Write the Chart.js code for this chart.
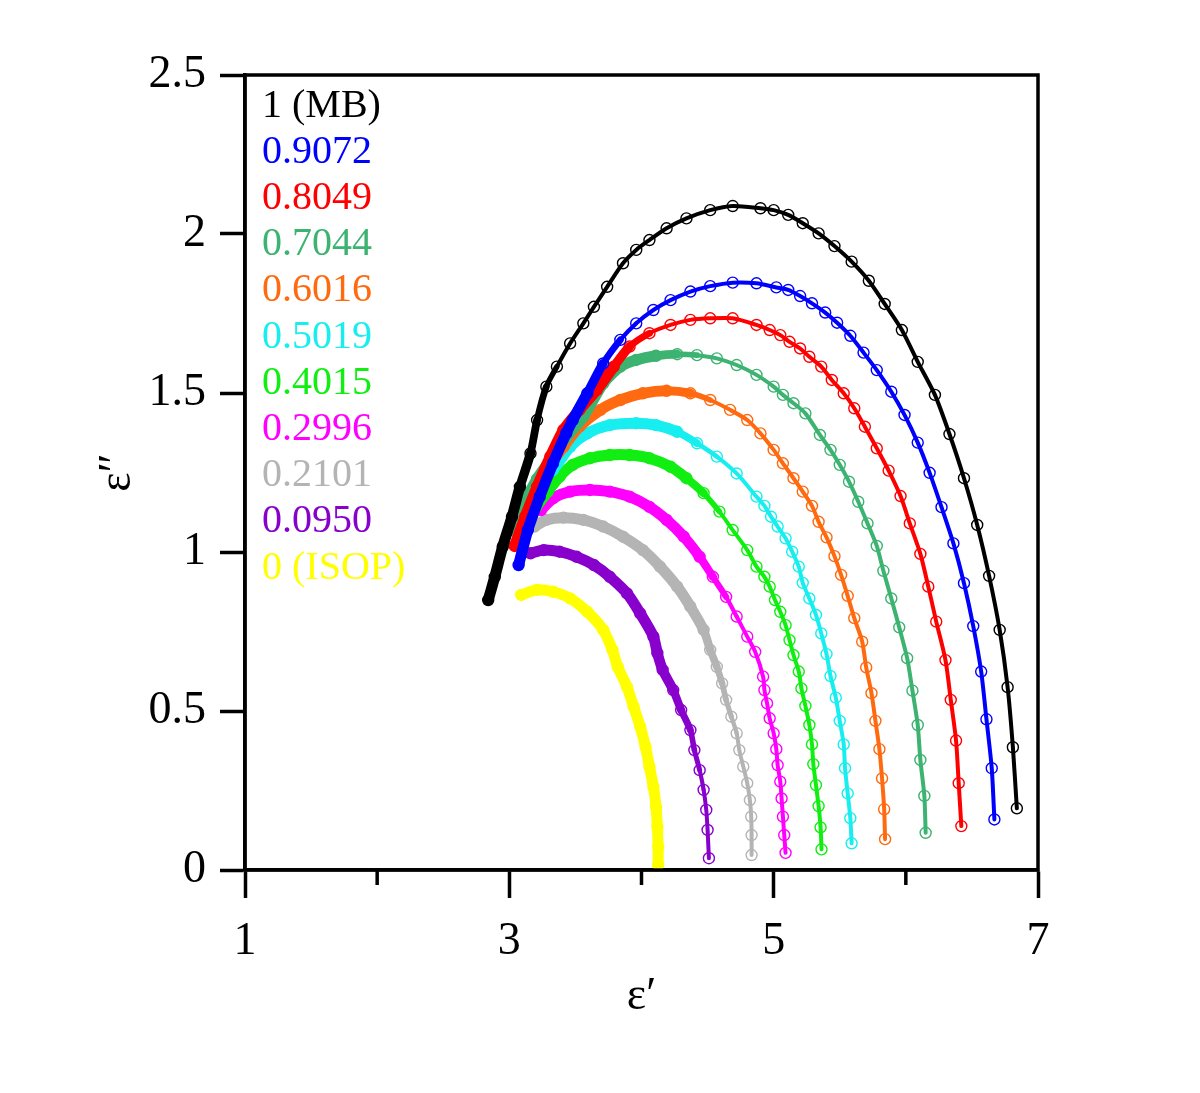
<!DOCTYPE html>
<html>
<head>
<meta charset="utf-8">
<script src="https://cdn.jsdelivr.net/npm/chart.js@4.4.1/dist/chart.umd.min.js"></script>
<style>
  html, body { margin: 0; padding: 0; background: #ffffff; }
  #wrap { width: 1200px; height: 1093px; }
</style>
</head>
<body>
<div id="wrap"><canvas id="coleChart" width="1200" height="1093"></canvas></div>
<script>
// composizione (frazione MB) e colori
const labels = ["1 (MB)", "0.9072", "0.8049", "0.7044", "0.6016", "0.5019", "0.4015", "0.2996", "0.2101", "0.0950", "0 (ISOP)"];
const colors = ["#000000", "#0000ff", "#ff0000", "#3cb371", "#ff6a10", "#18eef0", "#11ee11", "#ff00ff", "#b4b4b4", "#8800cc", "#ffff00"];

// eps' / eps''
const x_1000 = [2.84, 2.89, 2.95, 3.02, 3.08, 3.16, 3.21, 3.28, 3.36, 3.46, 3.56, 3.64, 3.74, 3.86, 3.96, 4.06, 4.19, 4.34, 4.52, 4.69, 4.90, 5.00, 5.11, 5.22, 5.34, 5.46, 5.59, 5.72, 5.84, 5.97, 6.09, 6.22, 6.33, 6.44, 6.54, 6.63, 6.71, 6.77, 6.81, 6.84];
const y_1000 = [0.849, 0.922, 1.017, 1.111, 1.205, 1.310, 1.415, 1.520, 1.583, 1.656, 1.719, 1.771, 1.834, 1.908, 1.950, 1.981, 2.018, 2.049, 2.075, 2.088, 2.081, 2.075, 2.060, 2.034, 2.002, 1.962, 1.913, 1.853, 1.780, 1.698, 1.598, 1.494, 1.371, 1.232, 1.085, 0.925, 0.755, 0.575, 0.386, 0.194];

const x_9072 = [3.07, 3.14, 3.23, 3.33, 3.43, 3.48, 3.59, 3.71, 3.84, 3.96, 4.09, 4.22, 4.37, 4.52, 4.69, 4.87, 5.02, 5.11, 5.20, 5.29, 5.39, 5.48, 5.58, 5.68, 5.78, 5.89, 5.99, 6.09, 6.18, 6.27, 6.36, 6.44, 6.51, 6.57, 6.61, 6.65, 6.67];
const y_9072 = [0.959, 1.069, 1.174, 1.279, 1.373, 1.415, 1.499, 1.593, 1.667, 1.719, 1.761, 1.792, 1.819, 1.836, 1.847, 1.845, 1.832, 1.824, 1.805, 1.782, 1.753, 1.721, 1.680, 1.627, 1.572, 1.504, 1.431, 1.344, 1.249, 1.141, 1.027, 0.902, 0.767, 0.624, 0.474, 0.320, 0.159];

const x_8049 = [3.04, 3.12, 3.21, 3.31, 3.41, 3.53, 3.66, 3.79, 3.91, 4.06, 4.22, 4.37, 4.52, 4.69, 4.87, 4.97, 5.05, 5.12, 5.20, 5.27, 5.36, 5.44, 5.53, 5.61, 5.69, 5.78, 5.87, 5.96, 6.03, 6.11, 6.17, 6.23, 6.30, 6.34, 6.38, 6.40, 6.42];
const y_8049 = [1.019, 1.111, 1.205, 1.300, 1.384, 1.447, 1.509, 1.583, 1.646, 1.688, 1.714, 1.730, 1.735, 1.735, 1.714, 1.698, 1.682, 1.661, 1.640, 1.614, 1.583, 1.541, 1.499, 1.452, 1.394, 1.326, 1.256, 1.176, 1.090, 0.994, 0.891, 0.781, 0.660, 0.535, 0.407, 0.273, 0.138];

const x_7044 = [3.03, 3.11, 3.21, 3.33, 3.43, 3.56, 3.71, 3.84, 3.96, 4.11, 4.27, 4.42, 4.57, 4.72, 4.87, 5.00, 5.07, 5.15, 5.24, 5.35, 5.43, 5.50, 5.57, 5.64, 5.71, 5.78, 5.83, 5.89, 5.95, 6.01, 6.05, 6.09, 6.11, 6.14, 6.15];
const y_7044 = [1.069, 1.150, 1.230, 1.300, 1.360, 1.425, 1.530, 1.583, 1.604, 1.617, 1.622, 1.619, 1.609, 1.588, 1.557, 1.520, 1.494, 1.468, 1.436, 1.368, 1.321, 1.274, 1.221, 1.158, 1.090, 1.019, 0.941, 0.854, 0.763, 0.666, 0.564, 0.456, 0.346, 0.233, 0.117];

const x_6016 = [3.03, 3.16, 3.28, 3.41, 3.53, 3.69, 3.84, 4.01, 4.19, 4.37, 4.52, 4.67, 4.80, 4.90, 5.00, 5.07, 5.15, 5.22, 5.29, 5.34, 5.40, 5.46, 5.51, 5.56, 5.61, 5.67, 5.70, 5.74, 5.77, 5.80, 5.82, 5.836, 5.843];
const y_6016 = [1.111, 1.185, 1.258, 1.331, 1.394, 1.447, 1.478, 1.499, 1.507, 1.499, 1.478, 1.447, 1.415, 1.373, 1.321, 1.279, 1.232, 1.190, 1.145, 1.095, 1.046, 0.987, 0.928, 0.862, 0.792, 0.718, 0.637, 0.556, 0.469, 0.380, 0.288, 0.191, 0.097];

const x_5019 = [3.14, 3.23, 3.33, 3.46, 3.59, 3.76, 3.96, 4.11, 4.27, 4.42, 4.57, 4.72, 4.87, 4.93, 4.98, 5.03, 5.09, 5.14, 5.19, 5.22, 5.27, 5.32, 5.36, 5.40, 5.43, 5.47, 5.50, 5.53, 5.54, 5.56, 5.58, 5.59];
const y_5019 = [1.179, 1.226, 1.258, 1.331, 1.373, 1.399, 1.405, 1.399, 1.378, 1.342, 1.300, 1.247, 1.174, 1.145, 1.111, 1.080, 1.043, 1.001, 0.954, 0.903, 0.854, 0.802, 0.744, 0.679, 0.610, 0.542, 0.469, 0.395, 0.320, 0.241, 0.163, 0.084];

const x_4015 = [3.20, 3.29, 3.38, 3.48, 3.61, 3.76, 3.91, 4.06, 4.22, 4.34, 4.47, 4.59, 4.69, 4.80, 4.87, 4.93, 4.97, 5.01, 5.05, 5.09, 5.12, 5.15, 5.19, 5.21, 5.24, 5.27, 5.29, 5.30, 5.32, 5.34, 5.355, 5.362];
const y_4015 = [1.140, 1.190, 1.237, 1.274, 1.295, 1.305, 1.305, 1.295, 1.268, 1.232, 1.185, 1.127, 1.069, 1.006, 0.954, 0.922, 0.891, 0.849, 0.812, 0.770, 0.723, 0.676, 0.624, 0.571, 0.516, 0.456, 0.395, 0.333, 0.267, 0.201, 0.134, 0.065];

const x_2996 = [3.24, 3.33, 3.46, 3.61, 3.76, 3.91, 4.06, 4.19, 4.32, 4.44, 4.54, 4.64, 4.72, 4.80, 4.86, 4.92, 4.93, 4.95, 4.97, 5.00, 5.02, 5.03, 5.05, 5.06, 5.07, 5.08, 5.09];
const y_2996 = [1.132, 1.169, 1.190, 1.195, 1.190, 1.174, 1.142, 1.101, 1.048, 0.985, 0.922, 0.859, 0.797, 0.734, 0.686, 0.608, 0.566, 0.524, 0.477, 0.430, 0.380, 0.330, 0.278, 0.225, 0.168, 0.110, 0.054];

const x_2101 = [3.19, 3.28, 3.41, 3.56, 3.71, 3.86, 4.01, 4.14, 4.27, 4.37, 4.47, 4.52, 4.57, 4.61, 4.64, 4.68, 4.72, 4.74, 4.77, 4.80, 4.82, 4.83, 4.833, 4.833];
const y_2101 = [1.080, 1.101, 1.108, 1.101, 1.080, 1.048, 1.006, 0.954, 0.891, 0.828, 0.755, 0.692, 0.639, 0.587, 0.535, 0.482, 0.430, 0.377, 0.325, 0.273, 0.220, 0.168, 0.110, 0.047];

const x_0950 = [3.16, 3.26, 3.38, 3.51, 3.64, 3.76, 3.89, 3.99, 4.09, 4.12, 4.16, 4.24, 4.30, 4.37, 4.40, 4.44, 4.47, 4.49, 4.50, 4.51];
const y_0950 = [0.996, 1.006, 1.001, 0.985, 0.959, 0.922, 0.870, 0.807, 0.734, 0.682, 0.629, 0.566, 0.503, 0.440, 0.377, 0.314, 0.252, 0.189, 0.126, 0.037];

const x_0000 = [3.09, 3.21, 3.33, 3.46, 3.59, 3.71, 3.78, 3.82, 3.89, 3.94, 3.99, 4.03, 4.06, 4.09, 4.11, 4.12, 4.126, 4.126];
const y_0000 = [0.865, 0.881, 0.875, 0.854, 0.812, 0.755, 0.692, 0.639, 0.576, 0.514, 0.451, 0.388, 0.325, 0.262, 0.199, 0.136, 0.073, 0.016];

const serie = [
  [x_1000, y_1000], [x_9072, y_9072], [x_8049, y_8049], [x_7044, y_7044],
  [x_6016, y_6016], [x_5019, y_5019], [x_4015, y_4015], [x_2996, y_2996],
  [x_2101, y_2101], [x_0950, y_0950], [x_0000, y_0000]
];

// fino a dove i marker sono cosi fitti da formare una banda
const bandaFino = [3.35, 3.85, 4.05, 4.35, 4.45, 4.45, 4.55, 4.65, 4.70, 4.45, 9];

const FONT = "'Liberation Serif', 'Times New Roman', serif";

function larghezzaSegmento(i, x) {
  // passaggio graduale dalla banda di marker fitti alla linea sottile
  const t = Math.min(Math.max((bandaFino[i] - x) / 0.35, 0), 1);
  return 4 + 7 * t;
}

function creaDataset(i) {
  const [xs, ys] = serie[i];
  return {
    label: labels[i],
    data: xs.map((x, k) => ({ x: x, y: ys[k] })),
    showLine: true,
    borderColor: colors[i],
    borderWidth: 4,
    borderCapStyle: "round",
    borderJoinStyle: "round",
    tension: 0.25,
    pointRadius: 5.5,
    pointBorderWidth: 1.4,
    pointBorderColor: colors[i],
    pointBackgroundColor: "rgba(0,0,0,0)",
    segment: {
      borderWidth: c => larghezzaSegmento(i, c.p0.parsed.x)
    }
  };
}

const cornicePlugin = {
  id: "cornice",
  afterDraw(chart) {
    const { ctx, chartArea: a } = chart;
    const xs = chart.scales.x;
    ctx.save();
    ctx.strokeStyle = "#000";
    ctx.lineWidth = 3.5;
    ctx.strokeRect(a.left, a.top, a.right - a.left, a.bottom - a.top);
    // tacche minori sull'asse x
    [2, 4, 6].forEach(v => {
      const px = xs.getPixelForValue(v);
      ctx.beginPath();
      ctx.moveTo(px, a.bottom);
      ctx.lineTo(px, a.bottom + 15);
      ctx.stroke();
    });
    // etichette delle composizioni
    ctx.font = "40px " + FONT;
    ctx.textBaseline = "middle";
    ctx.textAlign = "left";
    labels.forEach((t, i) => {
      ctx.fillStyle = colors[i];
      ctx.fillText(t, a.left + 17, 106 + i * 46.2);
    });
    ctx.restore();
  }
};

const ctx = document.getElementById("coleChart").getContext("2d");

new Chart(ctx, {
  type: "scatter",
  data: { datasets: labels.map((_, i) => creaDataset(i)) },
  options: {
    responsive: false,
    animation: false,
    devicePixelRatio: 1,
    layout: { padding: { left: 0, top: 75, right: 162, bottom: 0 } },
    plugins: {
      legend: { display: false },
      tooltip: { enabled: false }
    },
    scales: {
      x: {
        type: "linear",
        min: 1,
        max: 7,
        afterFit: s => { s.height = 223; },
        ticks: { stepSize: 2, color: "#000", padding: 16, font: { family: FONT, size: 46 } },
        grid: { drawOnChartArea: false, drawTicks: true, tickLength: 28, tickWidth: 3.5, tickColor: "#000" },
        border: { display: true, color: "#000", width: 3.5 },
        title: {
          display: true,
          text: "ε′",
          color: "#000",
          font: { family: FONT, size: 46 },
          padding: { top: 0, bottom: 68 }
        }
      },
      y: {
        type: "linear",
        min: 0,
        max: 2.5,
        afterFit: s => { s.width = 245; },
        ticks: {
          stepSize: 0.5,
          color: "#000",
          padding: 14,
          font: { family: FONT, size: 46 },
          callback: v => String(v)
        },
        grid: { drawOnChartArea: false, drawTicks: true, tickLength: 25, tickWidth: 3.5, tickColor: "#000" },
        border: { display: true, color: "#000", width: 3.5 },
        title: {
          display: true,
          text: "ε″",
          color: "#000",
          font: { family: FONT, size: 46 },
          padding: { top: 90, bottom: 0 }
        }
      }
    }
  },
  plugins: [cornicePlugin]
});
</script>
</body>
</html>
